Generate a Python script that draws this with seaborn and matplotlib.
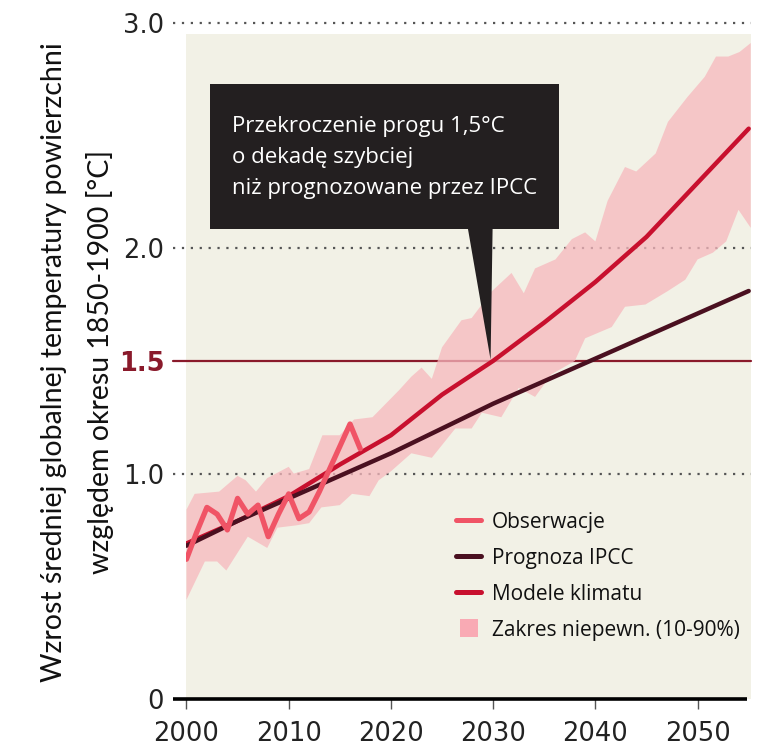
import numpy as np
import seaborn as sns
import matplotlib.pyplot as plt
from matplotlib.lines import Line2D
from matplotlib.patches import Rectangle, Polygon

# obserwacje (roczne)
obs_years = list(range(2000, 2018))
obs_values = [0.62, 0.74, 0.85, 0.82, 0.75, 0.89, 0.82, 0.86, 0.72, 0.82,
              0.91, 0.80, 0.83, 0.92, 1.02, 1.12, 1.22, 1.11]

# prognoza IPCC
ipcc_years = [2000, 2005, 2010, 2015, 2020, 2025, 2030, 2035, 2040, 2045, 2050, 2055]
ipcc_values = [0.68, 0.79, 0.89, 0.99, 1.09, 1.20, 1.31, 1.41, 1.51, 1.61, 1.71, 1.81]

# modele klimatu
model_years = [2000, 2005, 2010, 2015, 2020, 2025, 2030, 2035, 2040, 2045, 2050, 2055]
model_values = [0.69, 0.79, 0.90, 1.04, 1.17, 1.35, 1.50, 1.67, 1.85, 2.05, 2.29, 2.53]

# zakres niepewnosci - gorna krawedz
upper_years = [2000, 2000.8, 2003.2, 2005, 2005.8, 2006.8, 2007.9, 2010, 2010.5, 2012,
               2013.3, 2015, 2016.4, 2018.2, 2020.8, 2022, 2023, 2024, 2025, 2026.9,
               2027.9, 2029.9, 2031.8, 2033, 2034.1, 2036.1, 2037.7, 2039, 2040, 2041.2,
               2042.9, 2044, 2045.9, 2047.1, 2049, 2050.7, 2051.8, 2053, 2054.1, 2055.2]
upper_values = [0.84, 0.91, 0.92, 0.99, 0.97, 0.92, 0.98, 1.03, 1.00, 1.02,
                1.17, 1.17, 1.24, 1.25, 1.37, 1.43, 1.47, 1.42, 1.56, 1.68,
                1.69, 1.81, 1.89, 1.80, 1.91, 1.95, 2.04, 2.07, 2.03, 2.21,
                2.36, 2.34, 2.42, 2.56, 2.67, 2.76, 2.85, 2.85, 2.87, 2.91]

# zakres niepewnosci - dolna krawedz
lower_years = [2000, 2001.8, 2003, 2003.9, 2006, 2007.9, 2008.9, 2010.7, 2012, 2013.2,
               2015, 2016.2, 2017.9, 2018.8, 2020, 2022, 2024, 2026.3, 2027.9, 2028.9,
               2030.8, 2032.5, 2034.1, 2035.7, 2038, 2039, 2041.6, 2042.9, 2044.9, 2047.1,
               2048.8, 2050, 2051.5, 2052.8, 2054, 2055.2]
lower_values = [0.44, 0.61, 0.61, 0.57, 0.72, 0.67, 0.76, 0.77, 0.78, 0.85,
                0.86, 0.91, 0.90, 0.97, 1.01, 1.09, 1.07, 1.20, 1.20, 1.27,
                1.25, 1.38, 1.34, 1.44, 1.50, 1.60, 1.65, 1.74, 1.75, 1.81,
                1.86, 1.95, 1.98, 2.03, 2.17, 2.09]

x_ticks = [2000, 2010, 2020, 2030, 2040, 2050]
y_ticks = [0, 1.0, 1.5, 2.0, 3.0]
y_ticklabels = ['0', '1.0', '1.5', '2.0', '3.0']

legend_labels = ['Obserwacje', 'Prognoza IPCC', 'Modele klimatu', 'Zakres niepewn. (10-90%)']
note = 'Przekroczenie progu 1,5°C\no dekadę szybciej\nniż prognozowane przez IPCC'
ylabel = 'Wzrost średniej globalnej temperatury powierzchni\nwzględem okresu 1850-1900 [°C]'

c_obs = '#f05466'
c_ipcc = '#4a1020'
c_model = '#c8102e'
c_band = '#f7b8bd'
c_thr = '#8a1a2b'
c_bg = '#f2f1e6'

sns.set_theme(style='white')
plt.rcParams['font.family'] = ['DejaVu Sans']

fig = plt.figure(figsize=(7.75, 7.5), dpi=100)
ax = fig.add_axes([0.2406, 0.068, 0.7281, 0.9017])
ax.set_facecolor('white')
ax.set_xlim(2000, 2055.2)
ax.set_ylim(0, 3.0)

# tlo wykresu
ax.axhspan(0, 2.95, color=c_bg, zorder=0, lw=0)

# linie siatki (kropkowane), wychodza poza os w lewo
ytr = ax.get_yaxis_transform()
for yv in [1.0, 2.0, 3.0]:
    ax.plot([-0.024, 1.0], [yv, yv], transform=ytr, color='#555555', lw=1.6,
            ls=(0, (1, 3)), clip_on=False, zorder=1)
ax.plot([-0.024, 1.0], [1.5, 1.5], transform=ytr, color=c_thr, lw=1.6,
        clip_on=False, zorder=1)

# zakres niepewnosci
band_x = np.concatenate([upper_years, lower_years[::-1]])
band_y = np.concatenate([upper_values, lower_values[::-1]])
ax.fill(band_x, band_y, color=c_band, alpha=0.75, lw=0, zorder=2)

sns.lineplot(x=model_years, y=model_values, ax=ax, color=c_model, lw=3.2,
             solid_capstyle='round', zorder=3)
sns.lineplot(x=ipcc_years, y=ipcc_values, ax=ax, color=c_ipcc, lw=3.2,
             solid_capstyle='round', zorder=4)
sns.lineplot(x=obs_years, y=obs_values, ax=ax, color=c_obs, lw=3.8,
             solid_capstyle='round', zorder=5)

# os x
ax.plot([-0.024, 0.993], [0, 0], transform=ytr, color='black', lw=2.6,
        solid_capstyle='butt', clip_on=False, zorder=6)
for s in ax.spines.values():
    s.set_visible(False)

ax.set_xticks(x_ticks)
ax.set_xticklabels([str(t) for t in x_ticks])
ax.tick_params(axis='x', bottom=True, length=7, width=1, color='#555555',
               pad=9, labelsize=18.5, labelcolor='#222222')
ax.set_yticks(y_ticks)
ax.set_yticklabels(y_ticklabels)
ax.tick_params(axis='y', left=False, length=0, pad=16, labelsize=18.5,
               labelcolor='#222222')
for lab in ax.get_yticklabels():
    if lab.get_text() == '1.5':
        lab.set_color(c_thr)
        lab.set_fontweight('bold')
ax.grid(False)

# dymek z adnotacja
box_x0, box_x1 = 2002.3, 2036.4
box_y0, box_y1 = 2.085, 2.73
ax.add_patch(Rectangle((box_x0, box_y0), box_x1 - box_x0, box_y1 - box_y0,
                       facecolor='#231f20', edgecolor='none', zorder=7))
ax.add_patch(Polygon([(2027.5, box_y0 + 0.01), (2029.95, box_y0 + 0.01), (2029.75, 1.505)],
                     closed=True, facecolor='#231f20', edgecolor='none', zorder=7))
ax.text(2004.5, (box_y0 + box_y1) / 2 - 0.005, note, color='white', fontsize=16,
        family=['Open Sans', 'DejaVu Sans'], ha='left', va='center',
        linespacing=1.62, zorder=8)

# legenda
handles = [
    Line2D([], [], color=c_obs, lw=3.6, solid_capstyle='round'),
    Line2D([], [], color=c_ipcc, lw=3.6, solid_capstyle='round'),
    Line2D([], [], color=c_model, lw=3.6, solid_capstyle='round'),
    Line2D([], [], color='#f9aab4', ls='none', marker='s', markersize=13, markeredgewidth=0),
]
leg = ax.legend(handles, legend_labels, loc='upper left', bbox_to_anchor=(0.478, 0.277),
                frameon=False, borderpad=0, borderaxespad=0, handlelength=1.2,
                handletextpad=0.5, labelspacing=0.72,
                prop={'family': ['Open Sans', 'DejaVu Sans'], 'size': 15})
for t in leg.get_texts():
    t.set_color('#111111')

fig.text(0.1, 0.517, ylabel, rotation=90, ha='center', va='center',
         multialignment='center', fontsize=20.5, family=['Lato', 'DejaVu Sans'],
         color='#111111', linespacing=1.8)

fig.savefig('out.png', dpi=100)
